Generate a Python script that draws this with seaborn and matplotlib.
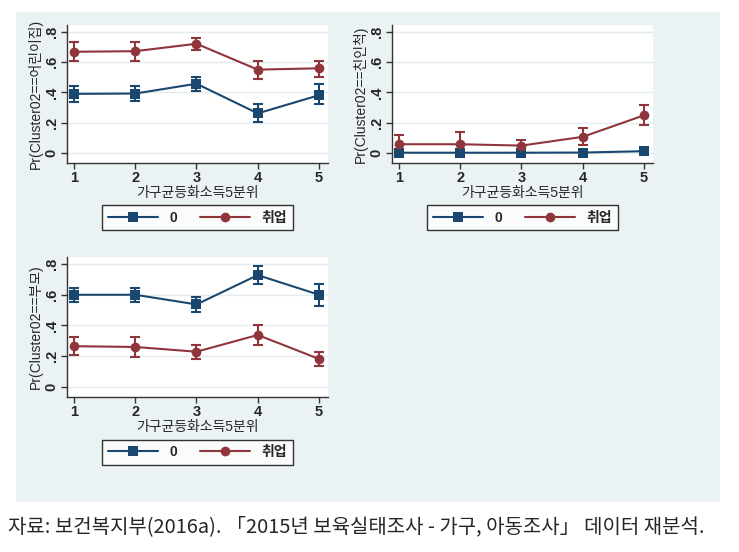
import matplotlib
matplotlib.use("Agg")
import matplotlib.pyplot as plt
import seaborn as sns
import pandas as pd
from matplotlib.patches import Rectangle

# ---------------- data ----------------
quintiles = [1, 2, 3, 4, 5]
groups = ["0", "취업"]

# panel 1: Pr(Cluster02==어린이집)
p1_zero = [0.391, 0.393, 0.458, 0.262, 0.382]
p1_zero_lo = [0.340, 0.347, 0.411, 0.202, 0.322]
p1_zero_hi = [0.444, 0.444, 0.502, 0.322, 0.453]
p1_emp = [0.669, 0.673, 0.722, 0.551, 0.560]
p1_emp_lo = [0.611, 0.607, 0.678, 0.491, 0.504]
p1_emp_hi = [0.733, 0.736, 0.762, 0.609, 0.611]

# panel 2: Pr(Cluster02==친인척)
p2_zero = [0.002, 0.002, 0.002, 0.003, 0.012]
p2_zero_lo = [0.000, 0.000, 0.000, 0.000, 0.004]
p2_zero_hi = [0.006, 0.006, 0.006, 0.008, 0.020]
p2_emp = [0.058, 0.058, 0.049, 0.107, 0.249]
p2_emp_lo = [-0.004, -0.015, 0.011, 0.051, 0.184]
p2_emp_hi = [0.122, 0.136, 0.084, 0.162, 0.318]

# panel 3: Pr(Cluster02==부모)
p3_zero = [0.600, 0.600, 0.537, 0.728, 0.600]
p3_zero_lo = [0.555, 0.550, 0.490, 0.668, 0.530]
p3_zero_hi = [0.646, 0.646, 0.584, 0.786, 0.668]
p3_emp = [0.265, 0.260, 0.229, 0.338, 0.182]
p3_emp_lo = [0.205, 0.196, 0.182, 0.276, 0.133]
p3_emp_hi = [0.325, 0.327, 0.276, 0.403, 0.229]

y_labels = ["Pr(Cluster02==어린이집)", "Pr(Cluster02==친인척)", "Pr(Cluster02==부모)"]
x_label = "가구균등화소득5분위"
y_ticks = [0, 0.2, 0.4, 0.6, 0.8]
y_ticklabels = ["0", ".2", ".4", ".6", ".8"]
caption = "자료: 보건복지부(2016a). 「2015년 보육실태조사 - 가구, 아동조사」 데이터 재분석."

panels = [
    (p1_zero, p1_zero_lo, p1_zero_hi, p1_emp, p1_emp_lo, p1_emp_hi),
    (p2_zero, p2_zero_lo, p2_zero_hi, p2_emp, p2_emp_lo, p2_emp_hi),
    (p3_zero, p3_zero_lo, p3_zero_hi, p3_emp, p3_emp_lo, p3_emp_hi),
]

# ---------------- style ----------------
sns.set_theme(style="white")
plt.rcParams["font.family"] = ["Liberation Sans", "Noto Sans CJK KR", "DejaVu Sans"]

NAVY = "#1A476F"
MAROON = "#90353B"
BG = "#EAF2F3"
GRID = "#E3ECEE"

W, H = 739, 552
fig = plt.figure(figsize=(W / 100, H / 100), dpi=100)
fig.patch.set_facecolor("white")
bg = Rectangle((16 / W, 1 - 502 / H), (720 - 16) / W, (502 - 12) / H,
               transform=fig.transFigure, facecolor=BG, edgecolor="none", zorder=-10)
fig.patches.append(bg)

# axes boxes in pixels: left, top, right, bottom
boxes = [(67, 25, 328, 163), (392, 25, 653, 163), (67, 257, 328, 397)]

for (x0, y0, x1, y1), ylab, data in zip(boxes, y_labels, panels):
    ax = fig.add_axes([x0 / W, 1 - y1 / H, (x1 - x0) / W, (y1 - y0) / H])
    ax.set_zorder(1)
    ax.set_facecolor("white")
    z, zlo, zhi, e, elo, ehi = data
    df = pd.DataFrame({
        "q": quintiles * 2,
        "p": list(z) + list(e),
        "g": [groups[0]] * 5 + [groups[1]] * 5,
    })
    for yv in y_ticks:
        ax.axhline(yv, color=GRID, lw=1.0, zorder=0)
    # CIs
    for vals, lo, hi, col in [(z, zlo, zhi, NAVY), (e, elo, ehi, MAROON)]:
        yerr = [[v - l for v, l in zip(vals, lo)], [h - v for v, h in zip(vals, hi)]]
        ax.errorbar(quintiles, vals, yerr=yerr, fmt="none", ecolor=col,
                    elinewidth=1.5, capsize=3.5, capthick=1.5, zorder=2)
    sns.lineplot(data=df, x="q", y="p", hue="g", style="g", palette=[NAVY, MAROON],
                 markers={"0": "s", "취업": "o"}, dashes=False, markersize=7,
                 markeredgewidth=0, linewidth=1.5, ax=ax, zorder=3, legend=True)
    ax.set_xlim(0.886, 5.147)
    ax.set_ylim(-0.066, 0.846)
    ax.set_xticks(quintiles)
    ax.set_xticklabels([str(q) for q in quintiles], fontsize=10.5, fontweight="bold")
    ax.set_yticks(y_ticks)
    ax.set_yticklabels(y_ticklabels, fontsize=10.5, fontweight="bold", rotation=90, va="center")
    ax.tick_params(axis="both", direction="out", length=4, width=1, color="#333333", pad=2,
                   bottom=True, left=True)
    for s in ["top", "right"]:
        ax.spines[s].set_visible(False)
    for s in ["left", "bottom"]:
        ax.spines[s].set_color("#333333")
        ax.spines[s].set_linewidth(1.0)
    ax.set_xlabel(x_label, fontsize=10, labelpad=0.5)
    ax.set_ylabel(ylab, fontsize=10, labelpad=1)
    handles, labels = ax.get_legend_handles_labels()
    leg = ax.legend(handles, labels, loc="upper center", bbox_to_anchor=(0.5, -0.255),
                    ncol=2, frameon=True, fancybox=False, edgecolor="black",
                    handlelength=3.6, columnspacing=1.7, fontsize=10,
                    borderpad=0.4, handletextpad=0.8)
    for t in leg.get_texts():
        t.set_fontweight("bold")
    leg.get_frame().set_linewidth(1.0)

fig.text(8 / W, 1 - 527 / H, caption, fontsize=14.4, va="center", ha="left",
         family=["Noto Sans CJK KR", "DejaVu Sans"])

fig.savefig("out.png", dpi=100)
